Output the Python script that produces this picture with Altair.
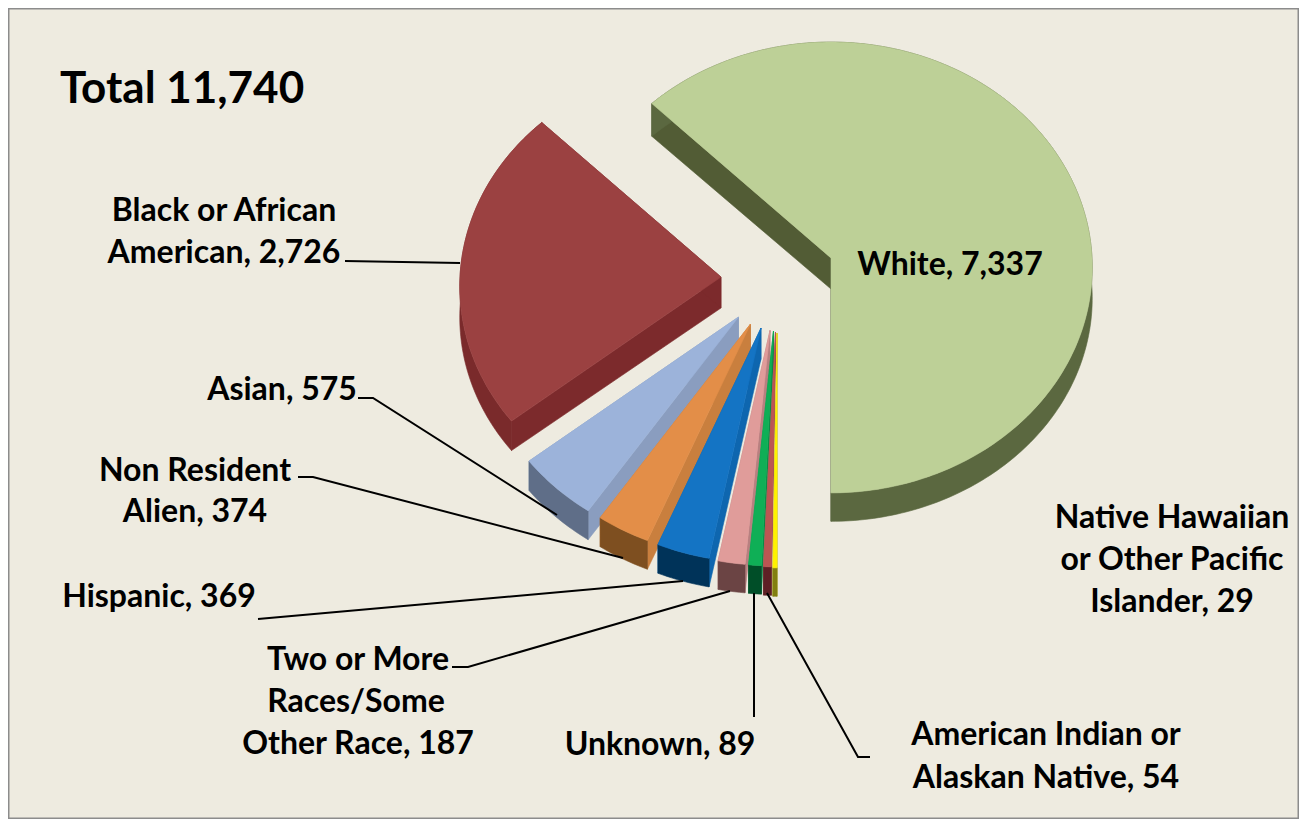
import math
import altair as alt
import pandas as pd

# ---- data ----
categories = ["Black or African American", "Asian", "Non Resident Alien", "Hispanic",
              "Two or More Races/Some Other Race", "Unknown", "American Indian or Alaskan Native",
              "Native Hawaiian or Other Pacific Islander", "White"]
values = [2726, 575, 374, 369, 187, 89, 54, 29, 7337]
total = 11740

# ---- styling ----
top_colors = ["#9B4141", "#9CB3DA", "#E38E48", "#1474C4", "#E09C9A", "#0FAF56", "#BC5653", "#FFF200", "#BDD097"]
radial_colors = ["#7C2A2C", "#8A9DBF", "#C97F3E", "#0E66AF", "#B88080", "#0C8A46", "#8F4442", "#B5AE30", "#525C35"]
outer_colors = ["#7A2A2B", "#5F6E88", "#7E4F20", "#003359", "#6B4444", "#004E28", "#5E2025", "#827F10", "#5B6840"]
apex_x = [721, 738.5, 750.5, 761, 770, 773.5, 775.5, 777, 831]
apex_y = [277, 317, 324, 328, 330.5, 331, 332, 333, 258]
RX, RY, K = 261, 225, 0.042
BG = "#EEEBE0"
W, H = 1291, 811

def project(ax, ay, deg):
    t = math.radians(deg)
    u, v = math.sin(t), -math.cos(t)
    w = 1 - K * v
    return ax + RX * u / w, ay + RY * v / w, v

def depth(v):
    return 31 - 2.5 * v

x_scale = alt.Scale(domain=[8, 8 + W], range=[0, W], nice=False, zero=False)
y_scale = alt.Scale(domain=[8, 8 + H], range=[0, H], nice=False, zero=False)
X = alt.X("x:Q", scale=x_scale, axis=None)
Y = alt.Y("y:Q", scale=y_scale, axis=None)

def poly(points, color):
    df = pd.DataFrame({"x": [p[0] for p in points], "y": [p[1] for p in points], "i": range(len(points))})
    return alt.Chart(df).mark_line(interpolate="linear-closed", fill=color, stroke=color, strokeWidth=0.6).encode(
        x=X, y=Y, order=alt.Order("i:Q"))

layers = []
# angles clockwise from the top; White runs from -45 deg to 180 deg, the rest follow back from 315 deg
angle = 315.0
for n, (val, tc, rc, oc, ax, ay) in enumerate(zip(values, top_colors, radial_colors, outer_colors, apex_x, apex_y)):
    sweep = val / total * 360
    if categories[n] == "White":
        a0, a1 = -45.0, 180.0
    else:
        a0, a1 = angle - sweep, angle
        angle -= sweep
    steps = max(3, int(abs(a1 - a0)))
    arc = [project(ax, ay, a0 + (a1 - a0) * s / steps) for s in range(steps + 1)]
    top = [(ax, ay)] + [(p[0], p[1]) for p in arc]
    outer = [(p[0], p[1]) for p in arc] + [(p[0], p[1] + depth(p[2])) for p in reversed(arc)]
    d0 = depth(0)
    s0 = [(ax, ay), (arc[0][0], arc[0][1]), (arc[0][0], arc[0][1] + depth(arc[0][2])), (ax, ay + d0)]
    s1 = [(ax, ay), (arc[-1][0], arc[-1][1]), (arc[-1][0], arc[-1][1] + depth(arc[-1][2])), (ax, ay + d0)]
    layers += [poly(s0, rc), poly(s1, rc), poly(outer, oc), poly(top, tc)]

# ---- leader lines ----
leaders = [
    [(345, 261), (460, 263)],
    [(358, 398), (373, 398), (557, 515)],
    [(298, 477), (313, 477), (623, 558)],
    [(258, 619), (683, 581)],
    [(452, 667), (468, 667), (730, 591)],
    [(754, 717), (754, 593)],
    [(767, 593), (858, 757), (870, 757)],
]
for pts in leaders:
    df = pd.DataFrame({"x": [p[0] for p in pts], "y": [p[1] for p in pts], "i": range(len(pts))})
    layers.append(alt.Chart(df).mark_line(color="black", strokeWidth=2).encode(x=X, y=Y, order=alt.Order("i:Q")))

# ---- text ----
label_text = ["Black or African", "American, 2,726", "Asian, 575", "Non Resident", "Alien, 374",
              "Hispanic, 369", "Two or More", "Races/Some", "Other Race, 187", "Unknown, 89",
              "American Indian or", "Alaskan Native, 54", "Native Hawaiian", "or Other Pacific",
              "Islander, 29", "White, 7,337"]
label_x = [224, 224, 282, 195, 195, 159, 358, 356, 358, 660, 1046, 1046, 1172, 1172, 1172, 950]
label_y = [211, 253, 390, 471, 512, 597, 660, 702, 744, 745, 735, 778, 518, 560, 602, 265]
labels = pd.DataFrame({"x": label_x, "y": label_y, "t": label_text})
layers.append(alt.Chart(labels).mark_text(font="Lato", fontWeight="bold", fontSize=32, color="black",
                                         align="center", baseline="middle").encode(x=X, y=Y, text="t:N"))
title = pd.DataFrame({"x": [60], "y": [90], "t": ["Total 11,740"]})
layers.append(alt.Chart(title).mark_text(font="Lato", fontWeight="bold", fontSize=44, color="black",
                                        align="left", baseline="middle").encode(x=X, y=Y, text="t:N"))

chart = alt.layer(*layers).properties(width=W, height=H, padding=0, background=BG).configure_view(
    stroke="#8C8C8C", strokeWidth=3)
chart.save("out.html", embed_options={"renderer": "svg", "actions": False})
